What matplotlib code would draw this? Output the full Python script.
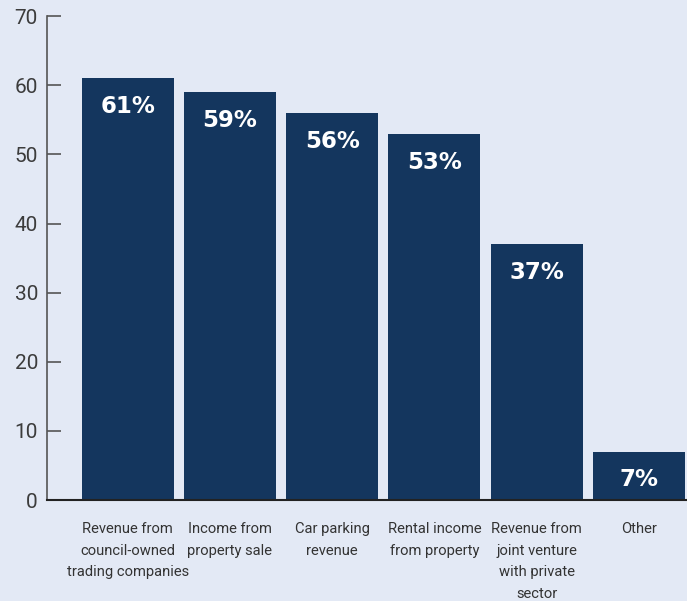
import matplotlib.pyplot as plt

# share of councils reporting each income source (%)
categories = [
    "Revenue from\ncouncil-owned\ntrading companies",
    "Income from\nproperty sale",
    "Car parking\nrevenue",
    "Rental income\nfrom property",
    "Revenue from\njoint venture\nwith private\nsector",
    "Other",
]
values = [61, 59, 56, 53, 37, 7]
y_ticks = [0, 10, 20, 30, 40, 50, 60, 70]

bg = "#E3E9F5"
bar_color = "#14365E"
text_grey = "#3C3C3C"

fig = plt.figure(figsize=(6.87, 6.01), dpi=100, facecolor=bg)
ax = fig.add_axes([0.0684, 0.168, 0.9316, 0.805], facecolor=bg)

x = list(range(len(values)))
ax.bar(x, values, width=0.9, color=bar_color, zorder=2)

for xi, v in zip(x, values):
    ax.text(xi, v - 4.1, f"{v}%", ha="center", va="center", color="white",
            fontsize=16.5, fontweight="bold", family="DejaVu Sans")

ax.set_xlim(-0.79, 5.47)
ax.set_ylim(0, 70)
ax.set_yticks(y_ticks)
ax.set_yticklabels([str(t) for t in y_ticks], fontsize=15, color=text_grey,
                   family="Roboto")
ax.tick_params(axis="y", direction="in", length=10, width=1.2, color="#555555", pad=6.5)

ax.set_xticks(x)
ax.set_xticklabels(categories, fontsize=10.6, color="#333333",
                   family="Roboto", linespacing=1.68, va="top")
ax.tick_params(axis="x", length=0, pad=16)

for side in ["top", "right"]:
    ax.spines[side].set_visible(False)
ax.spines["left"].set_color("#555555")
ax.spines["left"].set_linewidth(1.2)
ax.spines["bottom"].set_color("#222222")
ax.spines["bottom"].set_linewidth(1.5)

fig.savefig("out.png", dpi=100, facecolor=bg)
